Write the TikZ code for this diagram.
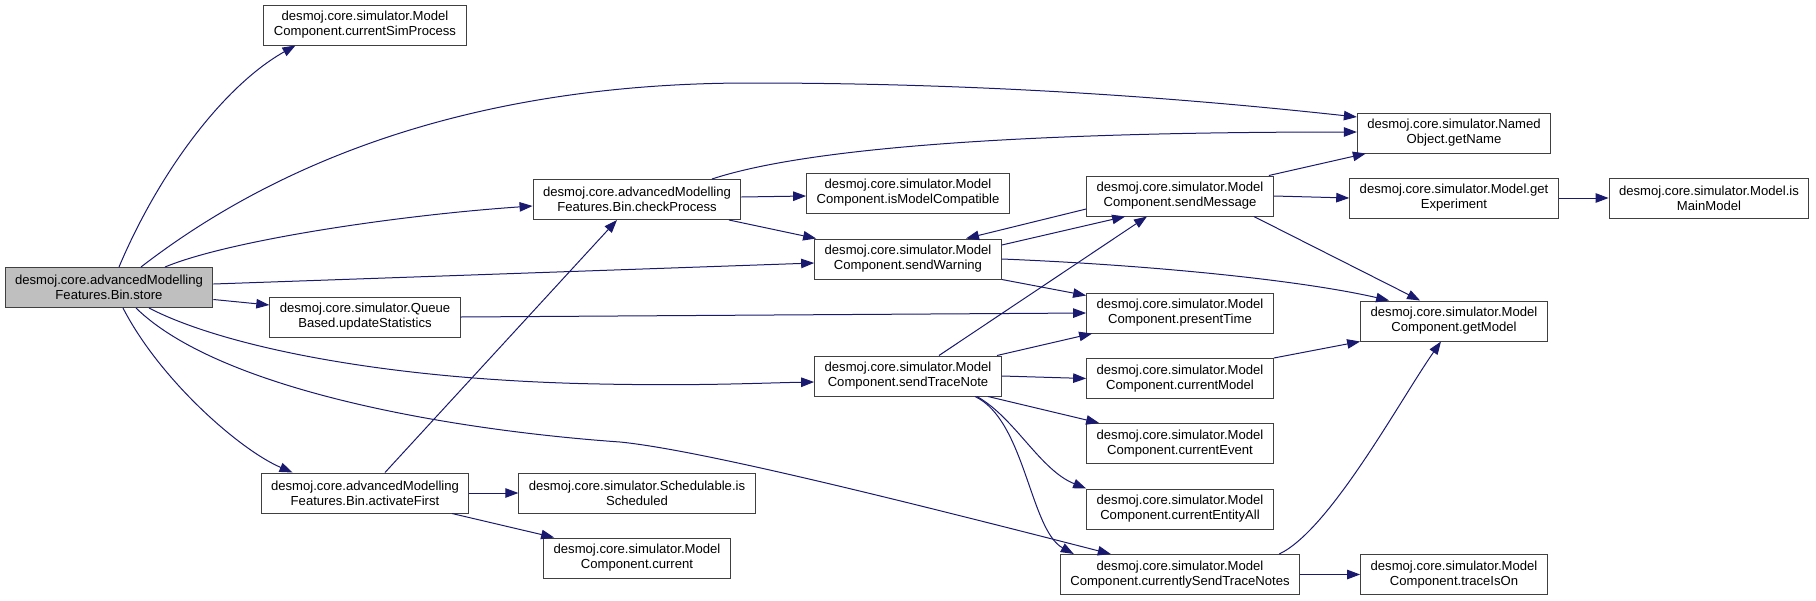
\documentclass[tikz,border=0pt]{standalone}
\usepackage{fontspec}
\setmainfont{Liberation Sans}
\usepackage{xcolor}
\usetikzlibrary{arrows.meta}
\definecolor{bluarco}{RGB}{25,25,112}
\definecolor{bordo}{RGB}{64,64,64}
\definecolor{grigio}{RGB}{191,191,191}

\begin{document}
\begin{tikzpicture}[x=1pt,y=-1pt,>={Triangle[length=13pt,width=9.5pt]},
  blocco/.style={draw=bordo,line width=1pt,fill=white,align=center,inner xsep=10pt,inner ysep=0pt,minimum height=40pt,font=\fontsize{13.1}{15}\selectfont},
  radice/.style={blocco,fill=grigio},
  arco/.style={->,draw=bluarco,line width=1pt}]
  \useasboundingbox (0,0) rectangle (1816,600);
  \node[radice] (store) at (109,287.5) {desmoj.core.advancedModelling\\Features.Bin.store};
  \node[blocco] (csp) at (365,25) {desmoj.core.simulator.Model\\Component.currentSimProcess};
  \node[blocco] (updstat) at (365,317) {desmoj.core.simulator.Queue\\Based.updateStatistics};
  \node[blocco] (actfirst) at (365,493) {desmoj.core.advancedModelling\\Features.Bin.activateFirst};
  \node[blocco] (checkproc) at (637,199.5) {desmoj.core.advancedModelling\\Features.Bin.checkProcess};
  \node[blocco] (issched) at (637,493) {desmoj.core.simulator.Schedulable.is\\Scheduled};
  \node[blocco] (current) at (637,558) {desmoj.core.simulator.Model\\Component.current};
  \node[blocco] (iscompat) at (908,193) {desmoj.core.simulator.Model\\Component.isModelCompatible};
  \node[blocco] (sendwarn) at (908,259) {desmoj.core.simulator.Model\\Component.sendWarning};
  \node[blocco] (sendtrace) at (908,376) {desmoj.core.simulator.Model\\Component.sendTraceNote};
  \node[blocco] (sendmsg) at (1180,196) {desmoj.core.simulator.Model\\Component.sendMessage};
  \node[blocco] (presenttime) at (1180,313) {desmoj.core.simulator.Model\\Component.presentTime};
  \node[blocco] (curmodel) at (1180,378.5) {desmoj.core.simulator.Model\\Component.currentModel};
  \node[blocco] (curevent) at (1180,443.5) {desmoj.core.simulator.Model\\Component.currentEvent};
  \node[blocco] (curentity) at (1180,509) {desmoj.core.simulator.Model\\Component.currentEntityAll};
  \node[blocco] (cursend) at (1180,574.5) {desmoj.core.simulator.Model\\Component.currentlySendTraceNotes};
  \node[blocco] (getname) at (1454,133) {desmoj.core.simulator.Named\\Object.getName};
  \node[blocco] (getexp) at (1454,198) {desmoj.core.simulator.Model.get\\Experiment};
  \node[blocco] (getmodel) at (1454,321) {desmoj.core.simulator.Model\\Component.getModel};
  \node[blocco] (traceon) at (1454,574.5) {desmoj.core.simulator.Model\\Component.traceIsOn};
  \node[blocco] (ismain) at (1709,198) {desmoj.core.simulator.Model.is\\MainModel};
  \draw[arco] ([xshift=10pt]store.north) .. controls (160,170) and (225,85) .. ([xshift=32pt]csp.south west);
  \draw[arco] ([xshift=32pt]store.north) .. controls (260,175) and (450,83) .. (750,83) .. controls (1000,83) and (1200,100) .. ([yshift=16pt]getname.west);
  \draw[arco] ([xshift=56pt]store.north) .. controls (230,240) and (400,215) .. ([yshift=-6.5pt]checkproc.west);
  \draw[arco] ([yshift=3.5pt]store.east) -- ([yshift=-4pt]sendwarn.west);
  \draw[arco] ([yshift=-12pt]store.east) -- ([yshift=12pt]updstat.west);
  \draw[arco] ([xshift=40pt]store.south) .. controls (220,345) and (380,380) .. (600,384) .. controls (700,386) and (760,383) .. ([yshift=-6pt]sendtrace.west);
  \draw[arco] ([xshift=27pt]store.south) .. controls (220,390) and (450,430) .. (620,442) .. controls (700,450) and (900,500) .. ([xshift=51pt]cursend.north west);
  \draw[arco] ([xshift=14pt]store.south) .. controls (160,380) and (240,450) .. ([xshift=32pt]actfirst.north west);
  \draw[arco] ([xshift=75pt]checkproc.north) .. controls (800,150) and (1000,132) .. ([yshift=1pt]getname.west);
  \draw[arco] ([yshift=2.5pt]checkproc.east) -- ([yshift=-3pt]iscompat.west);
  \draw[arco] ([xshift=92pt]checkproc.south) -- ([xshift=2pt]sendwarn.north west);
  \draw[arco] ([yshift=14pt]sendwarn.east) -- ([xshift=39pt]sendmsg.south west);
  \draw[arco] ([yshift=-13pt]sendmsg.west) -- ([xshift=58pt]sendwarn.north);
  \draw[arco] (sendwarn.east) .. controls (1150,265) and (1300,280) .. ([xshift=29pt]getmodel.north west);
  \draw[arco] (sendwarn.south east) -- ([yshift=-3pt]presenttime.north west);
  \draw[arco] (updstat.east) -- (presenttime.west);
  \draw[arco] ([xshift=31pt]sendtrace.north) -- ([xshift=-33pt]sendmsg.south);
  \draw[arco] ([xshift=89pt]sendtrace.north) -- ([xshift=6pt]presenttime.south west);
  \draw[arco] (sendtrace.east) -- (curmodel.west);
  \draw[arco] ([xshift=80pt]sendtrace.south) -- ([xshift=13pt]curevent.north west);
  \draw[arco] ([xshift=69pt]sendtrace.south) .. controls (1015,418) and (1040,470) .. (curentity.north west);
  \draw[arco] ([xshift=67pt]sendtrace.south) .. controls (1025,420) and (1030,530) .. ([xshift=14pt]cursend.north west);
  \draw[arco] (curmodel.north east) -- (getmodel.south west);
  \draw[arco] ([xshift=-5pt]sendmsg.north east) -- ([xshift=9pt]getname.south west);
  \draw[arco] (sendmsg.east) -- (getexp.west);
  \draw[arco] ([xshift=-20pt]sendmsg.south east) -- ([xshift=60pt]getmodel.north west);
  \draw[arco] (getexp.east) -- (ismain.west);
  \draw[arco] ([xshift=20pt]actfirst.north) -- ([xshift=-20pt]checkproc.south);
  \draw[arco] (actfirst.east) -- (issched.west);
  \draw[arco] ([xshift=87pt]actfirst.south) -- ([xshift=11pt]current.north west);
  \draw[arco] ([xshift=-21pt]cursend.north east) .. controls (1330,530) and (1400,400) .. ([xshift=-13pt]getmodel.south);
  \draw[arco] (cursend.east) -- (traceon.west);
\end{tikzpicture}
\end{document}
